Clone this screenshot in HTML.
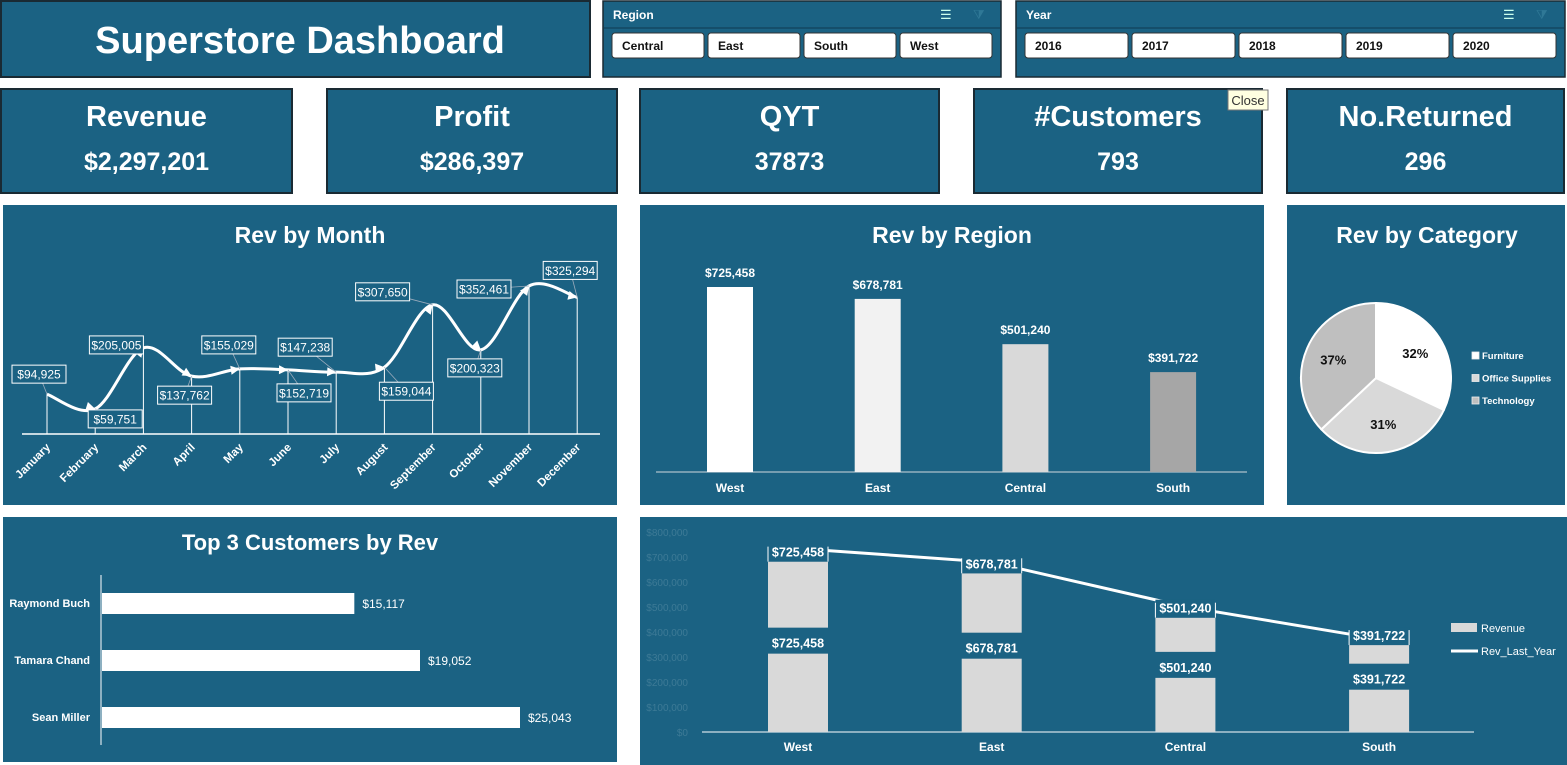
<!DOCTYPE html>
<html><head><meta charset="utf-8">
<style>
html,body{margin:0;padding:0;background:#fff;width:1567px;height:765px;overflow:hidden}
svg{display:block}
text{font-family:"Liberation Sans",Arial,sans-serif}
.n{font-family:"Liberation Sans Narrow","Liberation Sans",sans-serif}
</style></head>
<body>
<svg id="dash" width="1567" height="765" viewBox="0 0 1567 765" xmlns="http://www.w3.org/2000/svg">
<g>
<rect x="1" y="1" width="589" height="76" fill="#1b6283" stroke="#1a2a33" stroke-width="2"/>
<text x="300" y="53" text-anchor="middle" font-size="38" font-weight="bold" fill="#fff">Superstore Dashboard</text>
</g>
<g>
<rect x="603" y="1" width="398" height="76" fill="#1b6283" stroke="#1a2a33" stroke-width="1.5"/>
<text x="613" y="19" font-size="12" font-weight="bold" fill="#fff" class="n">Region</text>
<text x="940" y="19" font-size="13" fill="#cfe">☰</text>
<text x="973" y="19" font-size="13" fill="#2f7896">⧩</text>
<line x1="604" y1="28" x2="1000" y2="28" stroke="#0f3b50" stroke-width="1"/>
<g id="regBtns"></g>
</g>
<g>
<rect x="1016" y="1" width="549" height="76" fill="#1b6283" stroke="#1a2a33" stroke-width="1.5"/>
<text x="1026" y="19" font-size="12" font-weight="bold" fill="#fff" class="n">Year</text>
<text x="1503" y="19" font-size="13" fill="#cfe">☰</text>
<text x="1536" y="19" font-size="13" fill="#2f7896">⧩</text>
<line x1="1017" y1="28" x2="1564" y2="28" stroke="#0f3b50" stroke-width="1"/>
<g id="yearBtns"></g>
</g>
<g id="kpis"></g>
<g>
<rect x="1228" y="90" width="40" height="20" fill="#ffffe1" stroke="#777"/>
<text x="1248" y="105" text-anchor="middle" font-size="13" fill="#333">Close</text>
</g>

<g>
<rect x="3" y="205" width="614" height="300" fill="#1b6283"/>
<text x="310" y="243" text-anchor="middle" font-size="23" font-weight="bold" fill="#fff">Rev by Month</text>
<g id="monthChart"></g>
</g>
<g>
<rect x="640" y="205" width="624" height="300" fill="#1b6283"/>
<text x="952" y="243" text-anchor="middle" font-size="23" font-weight="bold" fill="#fff">Rev by Region</text>
<g id="regionChart"></g>
</g>
<g>
<rect x="1287" y="205" width="278" height="300" fill="#1b6283"/>
<text x="1427" y="243" text-anchor="middle" font-size="23" font-weight="bold" fill="#fff">Rev by Category</text>
<g id="pieChart"></g>
</g>
<g>
<rect x="3" y="517" width="614" height="245" fill="#1b6283"/>
<text x="310" y="550" text-anchor="middle" font-size="22" font-weight="bold" fill="#fff" class="n">Top 3 Customers by Rev</text>
<g id="custChart"></g>
</g>
<g>
<rect x="640" y="517" width="927" height="248" fill="#1b6283"/>
<g id="comboChart"></g>
</g>
</svg>
<script>
const NS='http://www.w3.org/2000/svg';
function mk(p,tag,a,txt){const e=document.createElementNS(NS,tag);for(const k in a)e.setAttribute(k,a[k]);if(txt!==undefined)e.textContent=txt;p.appendChild(e);return e;}
const $=id=>document.getElementById(id);
function fmt(v){return '$'+v.toLocaleString('en-US');}

// slicers
const regionNames=['Central','East','South','West'];
const yearNames=['2016','2017','2018','2019','2020'];
regionNames.forEach((r,i)=>{const g=mk($('regBtns'),'g',{});


const x=612+i*96;mk(g,'rect',{x:x,y:33,width:92,height:25,rx:3,fill:'#fff',stroke:'#333'});
mk(g,'text',{x:x+10,y:50,'font-size':12,'font-weight':'bold',fill:'#111',class:'n'},r);});
yearNames.forEach((r,i)=>{const g=mk($('yearBtns'),'g',{});


const x=1025+i*107;mk(g,'rect',{x:x,y:33,width:103,height:25,rx:3,fill:'#fff',stroke:'#333'});
mk(g,'text',{x:x+10,y:50,'font-size':12,'font-weight':'bold',fill:'#111',class:'n'},r);});

// KPIs
const kpiTitles=['Revenue','Profit','QYT','#Customers','No.Returned'];
const kpiValues=['$2,297,201','$286,397','37873','793','296'];
const kpiBoxes=[[1,292],[327,617],[640,939],[974,1262],[1287,1564]];
kpiTitles.forEach((t,i)=>{const g=mk($('kpis'),'g',{});


const [a,b]=kpiBoxes[i];mk(g,'rect',{x:a,y:89,width:b-a,height:104,fill:'#1b6283',stroke:'#1a2a33','stroke-width':2});
mk(g,'text',{x:(a+b)/2,y:126,'text-anchor':'middle','font-size':29,'font-weight':'bold',fill:'#fff'},t);
mk(g,'text',{x:(a+b)/2,y:170,'text-anchor':'middle','font-size':25,'font-weight':'bold',fill:'#fff'},kpiValues[i]);});

// Month chart
const months=['January','February','March','April','May','June','July','August','September','October','November','December'];
const monthRev=[94925,59751,205005,137762,155029,152719,147238,159044,307650,200323,352461,325294];
const labelOff=[[-8,-20],[20,10],[-27,-3],[-7,19],[-11,-24],[16,23],[-31,-25],[22,24],[-50,-13],[-6,18],[-45,3],[-7,-27]];
(function(){const g=$('monthChart');const x0=47,dx=48.2,base=434,k=148/352461;
const X=i=>x0+i*dx,Y=v=>base-v*k;
mk(g,'line',{x1:22,y1:base,x2:600,y2:base,stroke:'#fff','stroke-width':1.5});
const P=monthRev.map((v,i)=>[X(i),Y(v)]);
P.forEach((p,i)=>{const l=mk(g,'line',{x1:p[0],y1:p[1],x2:p[0],y2:base,stroke:'#fff','stroke-width':1});
});
let d='M'+P[0][0]+','+P[0][1];
for(let i=0;i<P.length-1;i++){const p0=P[Math.max(0,i-1)],p1=P[i],p2=P[i+1],p3=P[Math.min(P.length-1,i+2)];
const c1=[p1[0]+(p2[0]-p0[0])/6,p1[1]+(p2[1]-p0[1])/6],c2=[p2[0]-(p3[0]-p1[0])/6,p2[1]-(p3[1]-p1[1])/6];
d+=` C${c1[0]},${c1[1]} ${c2[0]},${c2[1]} ${p2[0]},${p2[1]}`;}
const ln=mk(g,'path',{d:d,fill:'none',stroke:'#fff','stroke-width':3});

P.forEach((p,i)=>{if(i==0)return;const q=P[i-1];const a=Math.atan2(p[1]-q[1],p[0]-q[0]);
const ar=mk(g,'path',{d:'M0,0 L-9,-4.5 L-9,4.5 Z',fill:'#fff',transform:`translate(${p[0]},${p[1]}) rotate(${a*180/Math.PI})`});
});
P.forEach((p,i)=>{const cx=p[0]+labelOff[i][0],cy=p[1]+labelOff[i][1];
const lg=mk(g,'g',{});
mk(lg,'line',{x1:p[0],y1:p[1],x2:cx,y2:cy,stroke:'#9ab','stroke-width':0.8});
mk(lg,'rect',{x:cx-27,y:cy-9,width:54,height:18,fill:'#1b6283',stroke:'#fff','stroke-width':1});
mk(lg,'text',{x:cx,y:cy+4.5,'text-anchor':'middle','font-size':12,fill:'#fff',class:'n'},fmt(monthRev[i]));
const t=mk(g,'text',{x:p[0]+4,y:base+14,'text-anchor':'end','font-size':11.5,'font-weight':'bold',fill:'#fff',class:'n',transform:`rotate(-45 ${p[0]+4} ${base+14})`},months[i]);
});
})();

// Region chart
const regions=['West','East','Central','South'];
const regionRev=[725458,678781,501240,391722];
const regionFill=['#ffffff','#f2f2f2','#d9d9d9','#a6a6a6'];
(function(){const g=$('regionChart');const base=472,k=185/725458;
mk(g,'line',{x1:656,y1:base,x2:1247,y2:base,stroke:'#d0d8de','stroke-width':1});
regions.forEach((r,i)=>{const cx=730+i*147.7,h=regionRev[i]*k;
const b=mk(g,'rect',{x:cx-23,y:base-h,width:46,height:h,fill:regionFill[i]});

mk(g,'text',{x:cx,y:base-h-10,'text-anchor':'middle','font-size':12,'font-weight':'bold',fill:'#fff'},fmt(regionRev[i]));
mk(g,'text',{x:cx,y:492,'text-anchor':'middle','font-size':12,'font-weight':'bold',fill:'#fff'},r);});
})();

// Pie
const cats=['Furniture','Office Supplies','Technology'];
const catShare=[32,31,37];
const catFill=['#ffffff','#d9d9d9','#bfbfbf'];
(function(){const g=$('pieChart');const cx=1376,cy=378,r=75;let a=-Math.PI/2;const tot=catShare.reduce((s,v)=>s+v,0);
catShare.forEach((v,i)=>{const a2=a+v/tot*2*Math.PI;const x1=cx+r*Math.cos(a),y1=cy+r*Math.sin(a),x2=cx+r*Math.cos(a2),y2=cy+r*Math.sin(a2);
const s=mk(g,'path',{d:`M${cx},${cy} L${x1},${y1} A${r},${r} 0 ${a2-a>Math.PI?1:0} 1 ${x2},${y2} Z`,fill:catFill[i],stroke:'#fff','stroke-width':2});

const m=(a+a2)/2;mk(g,'text',{x:cx+r*0.62*Math.cos(m),y:cy+r*0.62*Math.sin(m)+5,'text-anchor':'middle','font-size':13,'font-weight':'bold',fill:'#111'},v+'%');a=a2;
const lg=mk(g,'g',{});
mk(lg,'rect',{x:1472,y:352+i*22.5,width:7,height:7,fill:catFill[i],stroke:'#eee','stroke-width':0.8});
mk(lg,'text',{x:1482,y:359+i*22.5,'font-size':9.5,'font-weight':'bold',fill:'#fff'},cats[i]);});
})();

// Customers
const customers=['Raymond Buch','Tamara Chand','Sean Miller'];
const custRev=[15117,19052,25043];
(function(){const g=$('custChart');const x0=101,k=418/25043;
mk(g,'line',{x1:x0,y1:575,x2:x0,y2:745,stroke:'#fff','stroke-width':1});
customers.forEach((c,i)=>{const y=593+i*57,w=custRev[i]*k;
const b=mk(g,'rect',{x:x0+1,y:y,width:w,height:21,fill:'#fff'});

mk(g,'text',{x:90,y:y+14,'text-anchor':'end','font-size':11,'font-weight':'bold',fill:'#fff',class:'n'},c);
mk(g,'text',{x:x0+w+9,y:y+15,'font-size':12,fill:'#fff',class:'n'},fmt(custRev[i]));});
})();

// Combo chart
const comboRegions=['West','East','Central','South'];
const comboRev=[725458,678781,501240,391722];
const comboLastYear=[725458,678781,501240,391722];
const comboTicks=[0,100000,200000,300000,400000,500000,600000,700000,800000];
(function(){const g=$('comboChart');const base=732,k=25/100000,kl=0.000108;
comboTicks.forEach(t=>{mk(g,'text',{x:688,y:base-t*k+4,'text-anchor':'end','font-size':10,fill:'#3d7a96',class:'n'},t==0?'$0':fmt(t));});
mk(g,'line',{x1:702,y1:base,x2:1474,y2:base,stroke:'#fff','stroke-width':1});
const cxs=comboRegions.map((r,i)=>798+i*193.7);
const pts=cxs.map((cx,i)=>[cx+30*(i==0?1:(i==3?-1:0)),base-comboLastYear[i]*k]);
cxs.forEach((cx,i)=>{const ly=base-comboLastYear[i]*k;const lh=comboRev[i]*kl;const lt=base-lh;
const b1=mk(g,'rect',{x:cx-30,y:lt,width:60,height:lh,fill:'#d9d9d9'});

mk(g,'text',{x:cx,y:lt-6,'text-anchor':'middle','font-size':12.5,'font-weight':'bold',fill:'#fff'},fmt(comboRev[i]));
const b2=mk(g,'rect',{x:cx-30,y:ly+11,width:60,height:Math.max(0,lt-26-(ly+11)),fill:'#d9d9d9'});

mk(g,'text',{x:cx,y:751,'text-anchor':'middle','font-size':12,'font-weight':'bold',fill:'#fff'},comboRegions[i]);});
const pl=mk(g,'polyline',{points:pts.map(p=>p.join(',')).join(' '),fill:'none',stroke:'#fff','stroke-width':3});

cxs.forEach((cx,i)=>{const ly=base-comboLastYear[i]*k;
const lg=mk(g,'g',{});
mk(lg,'rect',{x:cx-30,y:ly-7,width:60,height:18,fill:'#1b6283'});
mk(lg,'line',{x1:cx-30,y1:ly-4,x2:cx-30,y2:ly+11,stroke:'#fff','stroke-width':1});
mk(lg,'line',{x1:cx+30,y1:ly-4,x2:cx+30,y2:ly+11,stroke:'#fff','stroke-width':1});
mk(lg,'text',{x:cx,y:ly+6,'text-anchor':'middle','font-size':12.5,'font-weight':'bold',fill:'#fff'},fmt(comboLastYear[i]));});
const l1=mk(g,'g',{});
mk(l1,'rect',{x:1451,y:623,width:26,height:9,fill:'#d9d9d9'});
mk(l1,'text',{x:1481,y:632,'font-size':11,fill:'#fff',class:'n'},'Revenue');
const l2=mk(g,'g',{});
mk(l2,'line',{x1:1451,y1:651,x2:1478,y2:651,stroke:'#fff','stroke-width':3});
mk(l2,'text',{x:1481,y:655,'font-size':11,fill:'#fff',class:'n'},'Rev_Last_Year');
})();
</script>
</body></html>
